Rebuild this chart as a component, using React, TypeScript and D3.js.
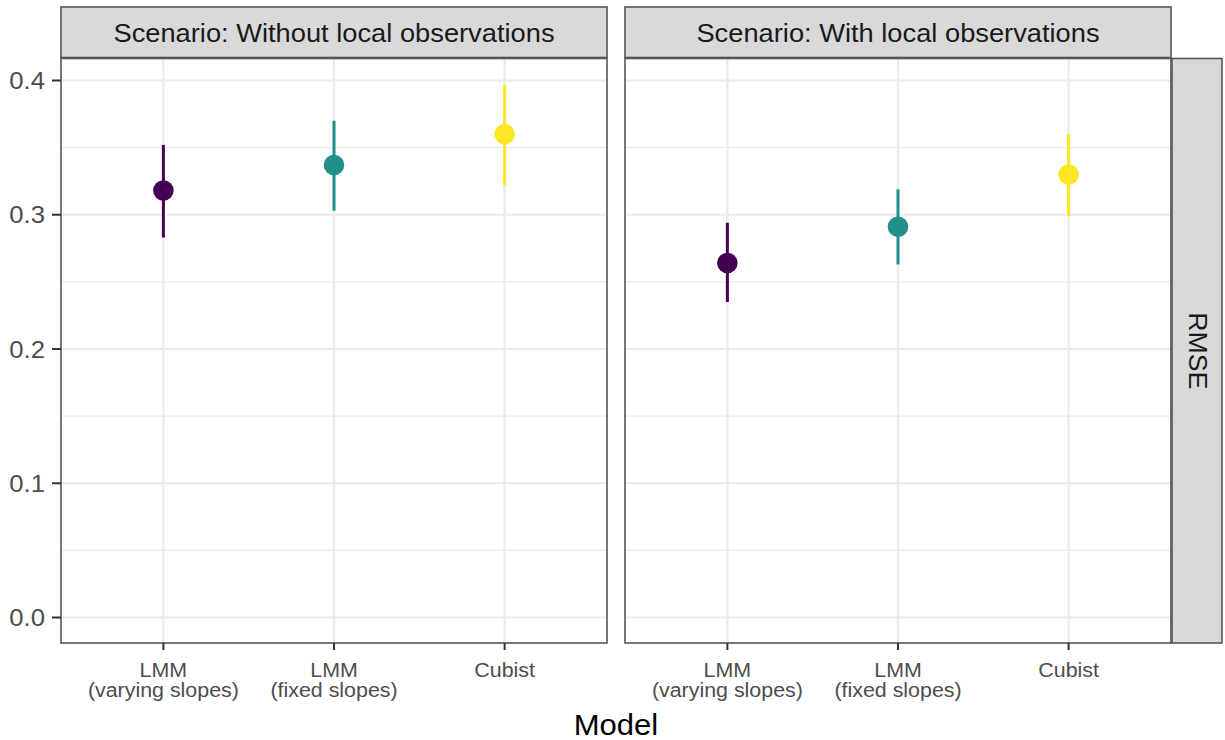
import React from "react";
import * as d3 from "d3";

const models = ["LMM\n(varying slopes)", "LMM\n(fixed slopes)", "Cubist"];
const scenarios = ["Scenario: Without local observations", "Scenario: With local observations"];
const colors = ["#440154", "#21908C", "#FDE725"];
// RMSE estimates per scenario (order: models)
const rmseWithout = [0.318, 0.337, 0.360];
const lowerWithout = [0.283, 0.303, 0.322];
const upperWithout = [0.352, 0.370, 0.397];
const rmseWith = [0.264, 0.291, 0.330];
const lowerWith = [0.235, 0.263, 0.299];
const upperWith = [0.294, 0.319, 0.360];
const yMajor = [0, 0.1, 0.2, 0.3, 0.4];
const yMinor = [0.05, 0.15, 0.25, 0.35];

const W = 1225, H = 740;
const panelTop = 58.5, panelBottom = 643;
const panels = [
  { x0: 61, x1: 607, mean: rmseWithout, lo: lowerWithout, hi: upperWithout, label: scenarios[0] },
  { x0: 625, x1: 1171, mean: rmseWith, lo: lowerWith, hi: upperWith, label: scenarios[1] },
];
const stripTop = 7, stripBottom = 57.5;
const FONT = "'Liberation Sans', Arial, Helvetica, sans-serif";
const SX = 1.07;

const y = d3.scaleLinear().domain([0, 0.4]).range([617.5, 80.5]);

function SText({ x, y: yy, size, fill, anchor = "middle", children, sx = SX }: any) {
  return (
    <text
      transform={`translate(${x},${yy}) scale(${sx},1)`}
      fontSize={size}
      fill={fill}
      textAnchor={anchor}
      fontFamily={FONT}
    >
      {children}
    </text>
  );
}

export default function App() {
  return (
    <svg width={W} height={H} style={{ position: "absolute", left: 0, top: 0, background: "#fff" }}>
      <rect x={0} y={0} width={W} height={H} fill="#fff" />
      {panels.map((p, pi) => {
        const x = d3.scalePoint<string>().domain(models).range([p.x0, p.x1]).padding(0.6);
        return (
          <g key={pi}>
            {/* grid */}
            {yMinor.map((v) => (
              <line key={"mn" + v} x1={p.x0} x2={p.x1} y1={y(v)} y2={y(v)} stroke="#EBEBEB" strokeWidth={1.2} />
            ))}
            {yMajor.map((v) => (
              <line key={"mj" + v} x1={p.x0} x2={p.x1} y1={y(v)} y2={y(v)} stroke="#EBEBEB" strokeWidth={2.2} />
            ))}
            {models.map((m) => (
              <line key={"vx" + m} x1={x(m)} x2={x(m)} y1={panelTop} y2={panelBottom} stroke="#EBEBEB" strokeWidth={2.2} />
            ))}
            {/* error bars & points */}
            {models.map((m, i) => (
              <g key={"pt" + m}>
                <line x1={x(m)} x2={x(m)} y1={y(p.lo[i])} y2={y(p.hi[i])} stroke={colors[i]} strokeWidth={3} />
                <circle cx={x(m)} cy={y(p.mean[i])} r={10.3} fill={colors[i]} />
              </g>
            ))}
            {/* border */}
            <rect x={p.x0} y={panelTop} width={p.x1 - p.x0} height={panelBottom - panelTop} fill="none" stroke="#555" strokeWidth={1.6} />
            {/* strip */}
            <rect x={p.x0} y={stripTop} width={p.x1 - p.x0} height={stripBottom - stripTop} fill="#D9D9D9" stroke="#555" strokeWidth={1.6} />
            <SText x={(p.x0 + p.x1) / 2} y={41.5} size={25.5} fill="#1A1A1A">{p.label}</SText>
            {/* x ticks */}
            {models.map((m) => {
              const lines = m.split("\n");
              return (
                <g key={"xt" + m}>
                  <line x1={x(m)} x2={x(m)} y1={panelBottom} y2={panelBottom + 7} stroke="#333" strokeWidth={2} />
                  {lines.map((ln, li) => (
                    <SText key={li} x={x(m)} y={676.5 + li * 20.5} size={20} fill="#4D4D4D">{ln}</SText>
                  ))}
                </g>
              );
            })}
          </g>
        );
      })}
      {/* y axis */}
      {yMajor.map((v) => (
        <g key={"yt" + v}>
          <line x1={52} x2={61} y1={y(v)} y2={y(v)} stroke="#333" strokeWidth={2} />
          <SText x={45} y={y(v) + 8.6} size={24} fill="#4D4D4D" anchor="end">{d3.format(".1f")(v)}</SText>
        </g>
      ))}
      {/* right strip */}
      <rect x={1172} y={panelTop} width={50} height={panelBottom - panelTop} fill="#D9D9D9" stroke="#555" strokeWidth={1.6} />
      <text
        transform={`translate(${1188.5},${(panelTop + panelBottom) / 2}) rotate(90) scale(${SX},1)`}
        fontSize={25}
        fill="#1A1A1A"
        textAnchor="middle"
        fontFamily={FONT}
      >
        RMSE
      </text>
      {/* x title */}
      <SText x={(61 + 1171) / 2} y={735} size={29} fill="#000">Model</SText>
    </svg>
  );
}
